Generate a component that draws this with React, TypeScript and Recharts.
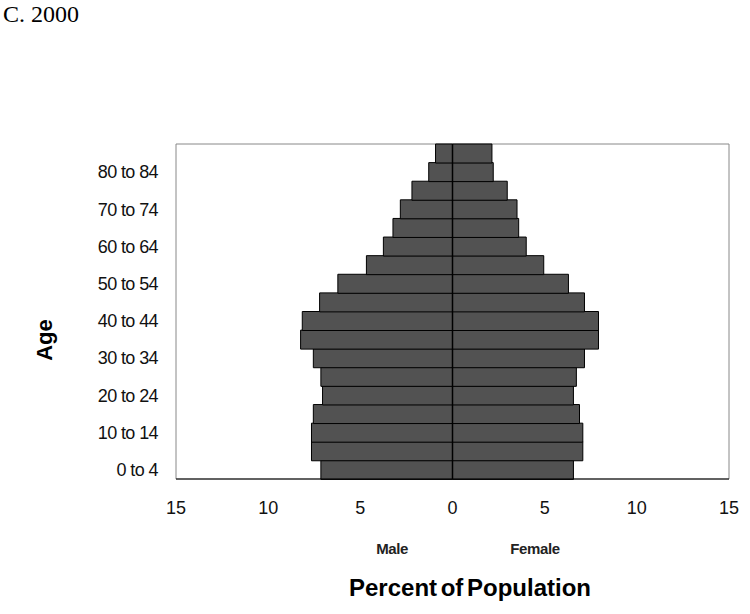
import { BarChart, Bar, XAxis, YAxis, ReferenceArea, ReferenceLine } from 'recharts';

// age groups, bottom to top
const ageGroups = [
    '0 to 4', '5 to 9', '10 to 14', '15 to 19', '20 to 24', '25 to 29',
    '30 to 34', '35 to 39', '40 to 44', '45 to 49', '50 to 54', '55 to 59',
    '60 to 64', '65 to 69', '70 to 74', '75 to 79', '80 to 84', '85+',
];

// percent of population
const maleShare = [7.14, 7.65, 7.65, 7.55, 7.05, 7.14, 7.55, 8.24, 8.15, 7.21, 6.22, 4.67, 3.75, 3.23, 2.83, 2.2, 1.29, 0.92];
const femaleShare = [6.56, 7.07, 7.07, 6.89, 6.56, 6.72, 7.16, 7.92, 7.92, 7.16, 6.29, 4.95, 4.0, 3.59, 3.5, 2.97, 2.21, 2.14];

const xTicks = [-15, -10, -5, 0, 5, 10, 15];

const data = ageGroups.map((age, i) => ({
    age,
    male: -maleShare[i],
    female: femaleShare[i],
}));

const sans = '"Liberation Sans", Arial, sans-serif';

const sideLabel = {
    position: 'absolute' as const,
    top: 540,
    transform: 'translateX(-50%)',
    fontFamily: sans,
    fontSize: 15,
    fontWeight: 'bold',
    color: '#222',
    letterSpacing: -0.4,
};

const App = () => {
    return (
        <div style={{ position: 'absolute', left: 0, top: 0, width: 750, height: 614, background: '#fff' }}>
            <div
                style={{
                    position: 'absolute',
                    left: 3,
                    top: 1,
                    fontFamily: '"Liberation Serif", "Times New Roman", serif',
                    fontSize: 24,
                    color: '#000',
                }}
            >
                C. 2000
            </div>
            <BarChart
                width={750}
                height={614}
                data={data}
                layout="vertical"
                stackOffset="sign"
                barCategoryGap={0}
                margin={{ top: 144, right: 21, left: 76, bottom: 95 }}
            >
                <XAxis
                    type="number"
                    domain={[-15, 15]}
                    ticks={xTicks}
                    tickFormatter={(v: number) => String(Math.abs(v))}
                    axisLine={{ stroke: '#000' }}
                    tickLine={false}
                    tickSize={6}
                    tickMargin={16}
                    height={40}
                    tick={{ fill: '#111', fontSize: 18, fontFamily: sans }}
                />
                <YAxis
                    type="category"
                    dataKey="age"
                    reversed
                    interval={1}
                    width={100}
                    axisLine={false}
                    tickLine={false}
                    tickSize={6}
                    tickMargin={12}
                    tick={{ fill: '#111', fontSize: 18, fontFamily: sans, letterSpacing: -0.6 }}
                />
                <ReferenceArea x1={-15} x2={15} fill="none" stroke="#888" strokeWidth={1} ifOverflow="extendDomain" />
                <Bar dataKey="male" stackId="pop" fill="#525252" stroke="#000" strokeWidth={1} isAnimationActive={false} />
                <Bar dataKey="female" stackId="pop" fill="#525252" stroke="#000" strokeWidth={1} isAnimationActive={false} />
                <ReferenceLine x={0} stroke="#000" strokeWidth={1.5} />
            </BarChart>
            <div
                style={{
                    position: 'absolute',
                    left: 45,
                    top: 340,
                    transform: 'translate(-50%, -50%) rotate(-90deg)',
                    whiteSpace: 'nowrap',
                    fontFamily: sans,
                    fontSize: 22,
                    fontWeight: 'bold',
                    lineHeight: 1,
                    color: '#000',
                }}
            >
                Age
            </div>
            <div style={{ ...sideLabel, left: 392 }}>Male</div>
            <div style={{ ...sideLabel, left: 535 }}>Female</div>
            <div
                style={{
                    position: 'absolute',
                    top: 574,
                    left: 470,
                    transform: 'translateX(-50%)',
                    whiteSpace: 'nowrap',
                    fontFamily: sans,
                    fontSize: 24,
                    fontWeight: 'bold',
                    wordSpacing: -3,
                    color: '#000',
                }}
            >
                Percent of Population
            </div>
        </div>
    );
};

export default App;
